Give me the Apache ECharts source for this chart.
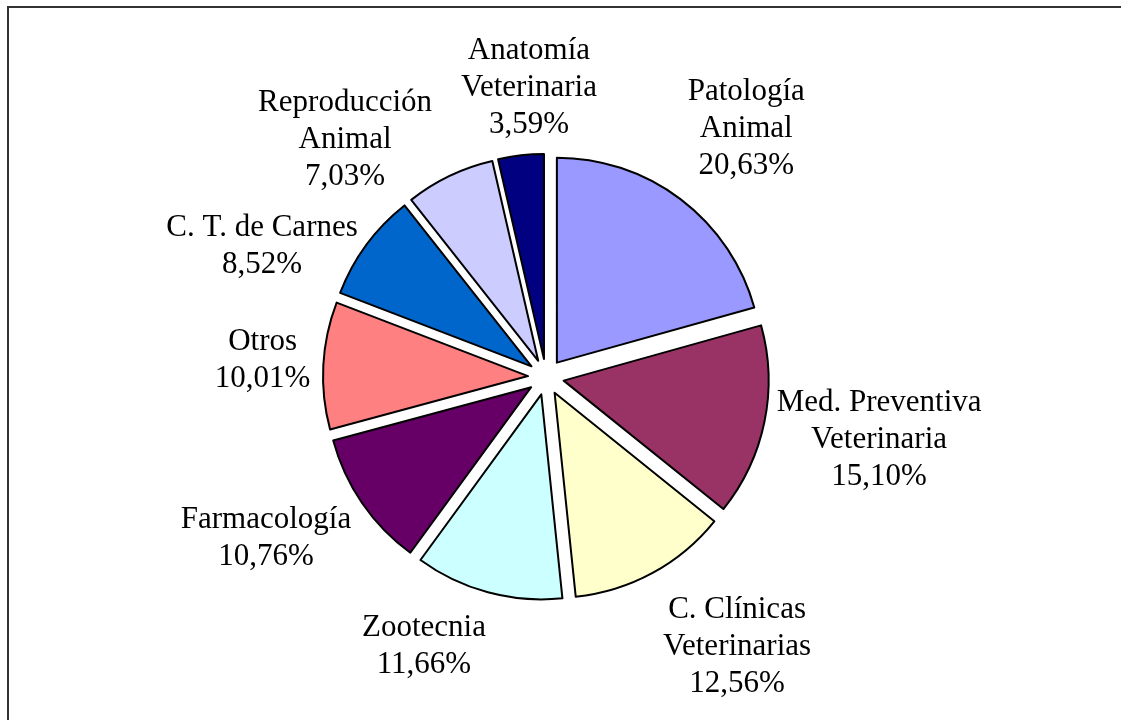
<!DOCTYPE html>
<html>
<head>
<meta charset="utf-8">
<script src="https://cdn.jsdelivr.net/npm/echarts@6/dist/echarts.min.js"></script>
<style>
    html, body { margin: 0; padding: 0; background: #fff; }
    #divPie { width: 1121px; height: 720px; }
</style>
</head>
<body>
<div id="divPie"></div>
<script>
// datos del grafico (porcentajes)
var areas = [
    'Patología\nAnimal',
    'Med. Preventiva\nVeterinaria',
    'C. Clínicas\nVeterinarias',
    'Zootecnia',
    'Farmacología',
    'Otros',
    'C. T. de Carnes',
    'Reproducción\nAnimal',
    'Anatomía\nVeterinaria'
];
var porcentajes = [20.63, 15.10, 12.56, 11.66, 10.76, 10.01, 8.52, 7.03, 3.59];
var colores = ['#9999FF', '#993366', '#FFFFCC', '#CCFFFF', '#660066', '#FF8080', '#0066CC', '#CCCCFF', '#000080'];

// geometria de la torta
var centro = [546, 377];
var radio = 205;
var separacion = 18;
var fuente = '31px "Liberation Serif"';
var altoLinea = 37;
// ajuste manual de etiquetas: [giro en grados, distancia extra en px]
var ajusteEtiq = [[1.7, 16], [-0.9, 5], [-6.7, 20], [9.3, 13], [4.5, 8], [0.4, 11], [-11.7, -13], [-14.7, -11], [3.1, 7]];

// angulo medio de cada sector (desde arriba, sentido horario)
var total = porcentajes.reduce(function (a, b) { return a + b; }, 0);
var acum = 0;
var angulos = porcentajes.map(function (v) {
    var mid = (acum + v / 2) / total * 2 * Math.PI;
    acum += v;
    return mid;
});

// medir el texto para dejar la etiqueta fuera del sector
var ctx = document.createElement('canvas').getContext('2d');
ctx.font = fuente;

var etiquetas = areas.map(function (nombre, i) {
    var texto = nombre + '\n' + porcentajes[i].toFixed(2).replace('.', ',') + '%';
    var lineas = texto.split('\n');
    var ancho = 0;
    lineas.forEach(function (l) { ancho = Math.max(ancho, ctx.measureText(l).width); });
    var alto = lineas.length * altoLinea;
    var a = angulos[i] + ajusteEtiq[i][0] * Math.PI / 180;
    var dx = Math.sin(a), dy = -Math.cos(a);
    var ext = ancho / 2 * Math.abs(dx) + alto / 2 * Math.abs(dy);
    var d = radio + separacion + ajusteEtiq[i][1] + ext;
    return {
        type: 'text',
        x: centro[0] + dx * d,
        y: centro[1] + dy * d,
        silent: true,
        style: {
            text: texto,
            fill: '#000',
            font: fuente,
            lineHeight: altoLinea,
            align: 'center',
            verticalAlign: 'middle',
            textAlign: 'center',
            textVerticalAlign: 'middle'
        }
    };
});

var datos = areas.map(function (nombre, i) {
    return {
        name: nombre,
        value: porcentajes[i],
        selected: true,
        itemStyle: { color: colores[i] }
    };
});

var myChart = echarts.init(document.getElementById('divPie'));
var option = {
    animation: false,
    graphic: [{
        type: 'rect',
        shape: { x: 8, y: 7, width: 1300, height: 900 },
        style: { fill: 'none', stroke: '#333', lineWidth: 2 },
        silent: true
    }].concat(etiquetas),
    series: [{
        type: 'pie',
        center: centro,
        radius: radio,
        startAngle: 90,
        clockwise: true,
        selectedMode: 'multiple',
        selectedOffset: separacion,
        avoidLabelOverlap: false,
        itemStyle: { borderColor: '#000', borderWidth: 2 },
        select: { itemStyle: { borderColor: '#000', borderWidth: 2 } },
        emphasis: { disabled: true },
        label: { show: false },
        labelLine: { show: false },
        data: datos
    }]
};
myChart.setOption(option);
</script>
</body>
</html>
